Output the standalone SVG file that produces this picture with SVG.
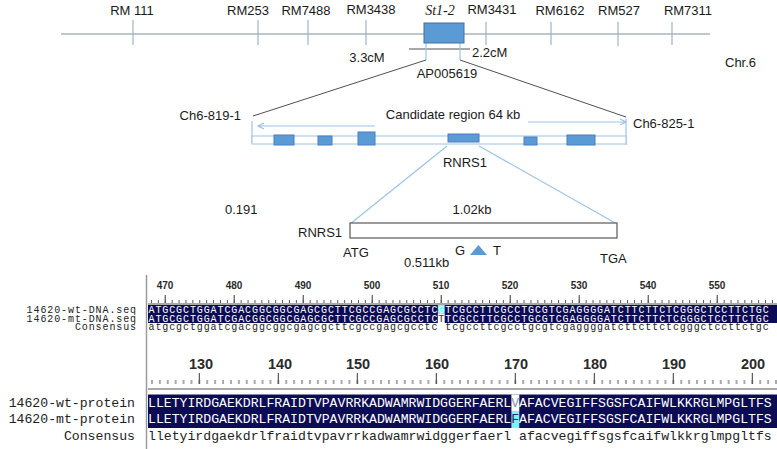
<svg xmlns="http://www.w3.org/2000/svg" width="777" height="449" viewBox="0 0 777 449">
<style>
.t{font-family:"Liberation Sans",Arial,sans-serif;font-size:13px;fill:#1a1a1a}
.it{font-family:"Liberation Serif","Times New Roman",serif;font-style:italic;font-size:14px;fill:#1a1a1a}
.mk{stroke:#9db4c8;stroke-width:1.2}
.blue{fill:#5b9bd5;stroke:#4a7ebb;stroke-width:1}
.lb{stroke:#9dc3e6;stroke-width:1.2;fill:none}
.dk{stroke:#505050;stroke-width:1;fill:none}
.dna{font-family:"Liberation Mono","Courier New",monospace;font-size:10px;letter-spacing:0.9px}
.pro{font-family:"Liberation Mono","Courier New",monospace;font-size:13.167px}
.rn{font-family:"Liberation Sans",Arial,sans-serif;font-weight:bold;fill:#2a2a2a}
.w{fill:#ffffff}
.k{fill:#222222}
</style>
<defs>
<pattern id="dS" patternUnits="userSpaceOnUse" x="148" y="0" width="6.9" height="449"><line x1="3.45" y1="300" x2="3.45" y2="303" stroke="#555" stroke-width="1"/></pattern>
<pattern id="dL" patternUnits="userSpaceOnUse" x="148" y="0" width="69" height="449"><line x1="17.25" y1="295" x2="17.25" y2="303" stroke="#555" stroke-width="1.2"/></pattern>
<pattern id="pS" patternUnits="userSpaceOnUse" x="148" y="0" width="7.9" height="449"><line x1="3.95" y1="380" x2="3.95" y2="384" stroke="#555" stroke-width="1"/></pattern>
<pattern id="pL" patternUnits="userSpaceOnUse" x="148" y="0" width="79" height="449"><line x1="51.35" y1="373" x2="51.35" y2="384" stroke="#555" stroke-width="1.2"/></pattern>
</defs>

<g id="connectors">
<line x1="61" y1="34" x2="710" y2="34" stroke="#7f8f9f" stroke-width="1.2"/>
<line x1="409" y1="49" x2="470" y2="49" class="dk"/>
<line x1="426" y1="43" x2="426" y2="60" class="lb"/>
<line x1="460" y1="43" x2="460" y2="60" class="lb"/>
<line x1="426" y1="60" x2="253" y2="116" class="dk"/>
<line x1="460" y1="60" x2="626" y2="117" class="dk"/>
<line x1="447" y1="146" x2="350" y2="224" class="lb"/>
<line x1="479" y1="146" x2="617" y2="224" class="lb"/>
<path d="M375 126 H258 M264 123 L258 126 L264 129" class="lb"/>
<path d="M528 122 H626 M620 119 L626 122 L620 125" class="lb"/>
</g>

<g id="chromosome">
<line x1="133" y1="20" x2="133" y2="45" class="mk"/>
<line x1="258" y1="20" x2="258" y2="45" class="mk"/>
<line x1="308" y1="20" x2="308" y2="45" class="mk"/>
<line x1="366" y1="20" x2="366" y2="45" class="mk"/>
<line x1="486" y1="22" x2="486" y2="45" class="mk"/>
<line x1="551" y1="22" x2="551" y2="45" class="mk"/>
<line x1="618" y1="22" x2="618" y2="46" class="mk"/>
<line x1="672" y1="22" x2="672" y2="45" class="mk"/>
<text class="t" x="132" y="15" text-anchor="middle">RM 111</text>
<text class="t" x="248" y="15" text-anchor="middle">RM253</text>
<text class="t" x="306" y="15" text-anchor="middle">RM7488</text>
<text class="t" x="371" y="14" text-anchor="middle">RM3438</text>
<text class="it" x="440" y="15" text-anchor="middle">St1-2</text>
<text class="t" x="492" y="14" text-anchor="middle">RM3431</text>
<text class="t" x="560" y="15" text-anchor="middle">RM6162</text>
<text class="t" x="619" y="15" text-anchor="middle">RM527</text>
<text class="t" x="688" y="15" text-anchor="middle">RM7311</text>
<text class="t" x="367" y="62" text-anchor="middle">3.3cM</text>
<text class="t" x="472" y="57">2.2cM</text>
<text class="t" x="725" y="67">Chr.6</text>
</g>

<g id="st1-2">
<rect x="424" y="23" width="40" height="20" fill="#5b9bd5" stroke="#41719c" stroke-width="1"/>
<text class="t" x="447" y="78" text-anchor="middle">AP005619</text>
</g>

<g id="candidate-region">
<line x1="252" y1="121" x2="252" y2="143" class="lb"/>
<line x1="626" y1="119" x2="626" y2="145" class="lb"/>
<rect x="252" y="136" width="374" height="8" fill="#ffffff" stroke="#9dc3e6" stroke-width="1"/>
<rect x="274" y="135" width="20" height="10" class="blue"/>
<rect x="318" y="136" width="14" height="9" class="blue"/>
<rect x="358" y="132" width="17" height="13" class="blue"/>
<rect x="448" y="134" width="31" height="8" class="blue"/>
<rect x="524" y="137" width="13" height="8" class="blue"/>
<rect x="567" y="135" width="28" height="10" class="blue"/>
<text class="t" x="241" y="120" text-anchor="end">Ch6-819-1</text>
<text class="t" x="633" y="128">Ch6-825-1</text>
<text class="t" x="453" y="119" text-anchor="middle">Candidate region 64 kb</text>
<text class="t" x="465" y="167" text-anchor="middle">RNRS1</text>
</g>

<g id="rnrs1-gene">
<rect x="350" y="223" width="267" height="15" fill="#ffffff" stroke="#595959" stroke-width="1.2"/>
<polygon points="470,255 478.5,245 487,255" fill="#5b9bd5"/>
<text class="t" x="225" y="214">0.191</text>
<text class="t" x="472" y="214" text-anchor="middle">1.02kb</text>
<text class="t" x="298" y="237">RNRS1</text>
<text class="t" x="343" y="257">ATG</text>
<text class="t" x="455" y="255">G</text>
<text class="t" x="493" y="255">T</text>
<text class="t" x="404" y="267">0.511kb</text>
<text class="t" x="600" y="263">TGA</text>
</g>

<g id="alignment-frame">
<line x1="146.5" y1="275" x2="146.5" y2="449" stroke="#9a9a9a" stroke-width="1.5"/>
<rect x="148" y="303" width="629" height="2" fill="#a8a8a8"/>
<rect x="148" y="388" width="629" height="2" fill="#a8a8a8"/>
</g>

<g id="dna-alignment">
<rect x="148" y="294" width="629" height="10" fill="url(#dS)"/>
<rect x="148" y="294" width="629" height="10" fill="url(#dL)"/>
<text class="rn" font-size="10" x="165" y="289" text-anchor="middle">470</text>
<text class="rn" font-size="10" x="234" y="289" text-anchor="middle">480</text>
<text class="rn" font-size="10" x="303" y="289" text-anchor="middle">490</text>
<text class="rn" font-size="10" x="372" y="289" text-anchor="middle">500</text>
<text class="rn" font-size="10" x="441" y="289" text-anchor="middle">510</text>
<text class="rn" font-size="10" x="510" y="289" text-anchor="middle">520</text>
<text class="rn" font-size="10" x="579" y="289" text-anchor="middle">530</text>
<text class="rn" font-size="10" x="648" y="289" text-anchor="middle">540</text>
<text class="rn" font-size="10" x="717" y="289" text-anchor="middle">550</text>
<rect x="148" y="305" width="629" height="18" fill="#0c0c55"/>
<rect x="437.8" y="305" width="6.9" height="9" fill="#7ff2f2"/>
<rect x="437.8" y="314" width="6.9" height="9" fill="#ffffff"/>
<text class="dna k" x="137" y="313" text-anchor="end">14620-wt-DNA.seq</text>
<text class="dna k" x="137" y="321.5" text-anchor="end">14620-mt-DNA.seq</text>
<text class="dna k" x="137" y="329.5" text-anchor="end">Consensus</text>
<text class="dna w" x="148.5" y="313" xml:space="preserve">ATGCGCTGGATCGACGGCGGCGAGCGCTTCGCCGAGCGCCTC<tspan fill="#e8ffff">G</tspan>TCGCCTTCGCCTGCGTCGAGGGGATCTTCTTCTCGGGCTCCTTCTGC</text>
<text class="dna w" x="148.5" y="321.5" xml:space="preserve">ATGCGCTGGATCGACGGCGGCGAGCGCTTCGCCGAGCGCCTC<tspan fill="#333333">T</tspan>TCGCCTTCGCCTGCGTCGAGGGGATCTTCTTCTCGGGCTCCTTCTGC</text>
<text class="dna k" x="148.5" y="329.5" xml:space="preserve">atgcgctggatcgacggcggcgagcgcttcgccgagcgcctc tcgccttcgcctgcgtcgaggggatcttcttctcgggctccttctgc</text>
</g>

<g id="protein-alignment">
<rect x="148" y="372" width="629" height="13" fill="url(#pS)"/>
<rect x="148" y="372" width="629" height="13" fill="url(#pL)"/>
<text class="rn" font-size="14.5" x="201" y="369" text-anchor="middle">130</text>
<text class="rn" font-size="14.5" x="280" y="369" text-anchor="middle">140</text>
<text class="rn" font-size="14.5" x="358" y="369" text-anchor="middle">150</text>
<text class="rn" font-size="14.5" x="437" y="369" text-anchor="middle">160</text>
<text class="rn" font-size="14.5" x="516" y="369" text-anchor="middle">170</text>
<text class="rn" font-size="14.5" x="595" y="369" text-anchor="middle">180</text>
<text class="rn" font-size="14.5" x="674" y="369" text-anchor="middle">190</text>
<text class="rn" font-size="14.5" x="753" y="369" text-anchor="middle">200</text>
<rect x="148" y="394.5" width="629" height="33.5" fill="#0c0c55"/>
<rect x="511.4" y="394.5" width="7.9" height="16.5" fill="#ffffff"/>
<rect x="511.4" y="411" width="7.9" height="17" fill="#7ff2f2"/>
<text class="pro k" x="135" y="407" text-anchor="end">14620-wt-protein</text>
<text class="pro k" x="135" y="423" text-anchor="end">14620-mt-protein</text>
<text class="pro k" x="135" y="440" text-anchor="end">Consensus</text>
<text class="pro w" x="148" y="407" xml:space="preserve">LLETYIRDGAEKDRLFRAIDTVPAVRRKADWAMRWIDGGERFAERL<tspan fill="#9090a8">V</tspan>AFACVEGIFFSGSFCAIFWLKKRGLMPGLTFS</text>
<text class="pro w" x="148" y="423" xml:space="preserve">LLETYIRDGAEKDRLFRAIDTVPAVRRKADWAMRWIDGGERFAERL<tspan fill="#2a2a70">F</tspan>AFACVEGIFFSGSFCAIFWLKKRGLMPGLTFS</text>
<text class="pro k" x="148" y="440" xml:space="preserve">lletyirdgaekdrlfraidtvpavrrkadwamrwidggerfaerl afacvegiffsgsfcaifwlkkrglmpgltfs</text>
</g>
</svg>
